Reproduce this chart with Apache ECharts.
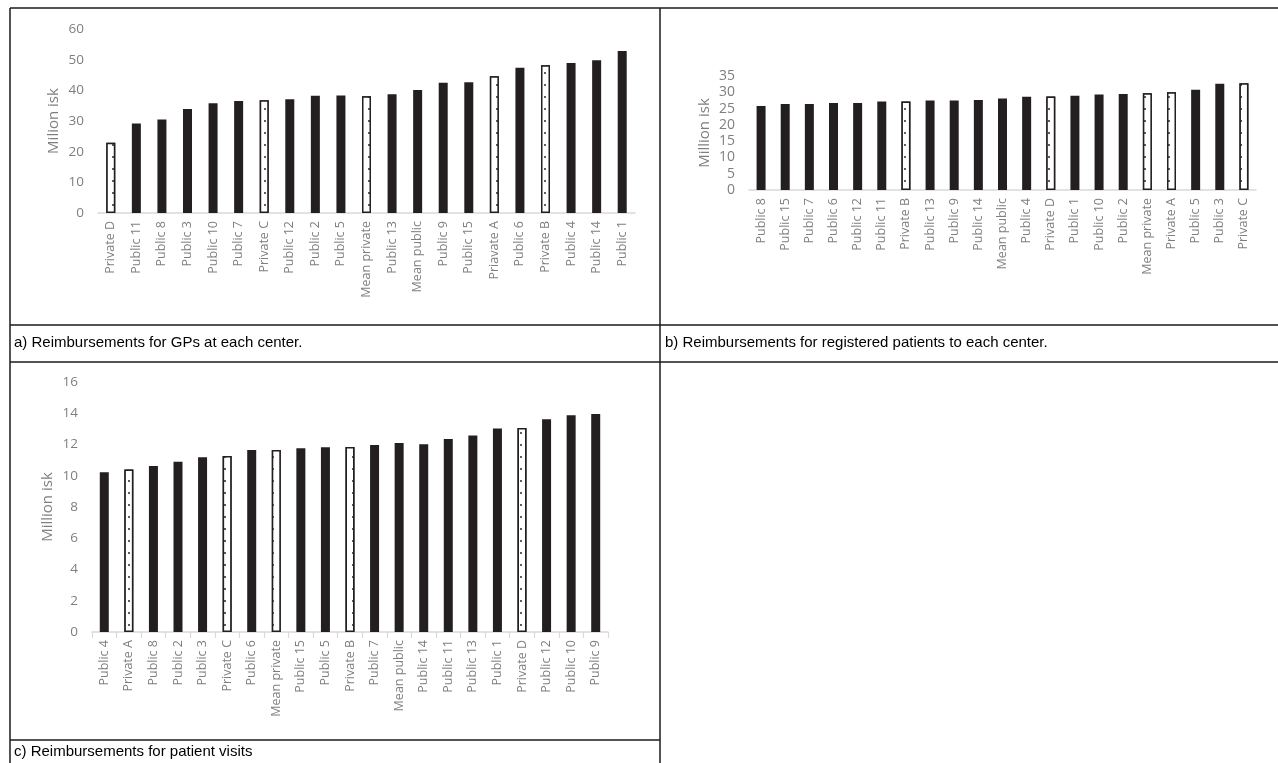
<!DOCTYPE html>
<html>
<head>
<meta charset="utf-8">
<script src="https://cdn.jsdelivr.net/npm/echarts@6/dist/echarts.min.js"></script>
<style>
html,body{margin:0;padding:0;background:#fff;}
#chart{width:1278px;height:763px;}
</style>
</head>
<body>
<div id="chart"></div>
<script>
// Panel a: Reimbursements for GPs at each center
const catsA = ["Private D","Public 11","Public 8","Public 3","Public 10","Public 7","Private C","Public 12","Public 2","Public 5","Mean private","Public 13","Mean public","Public 9","Public 15","Priavate A","Public 6","Private B","Public 4","Public 14","Public 1"];
const valsA = [22.9,29.2,30.5,33.9,35.8,36.5,36.8,37.1,38.2,38.3,38.1,38.7,40.1,42.5,42.6,44.6,47.4,48.2,48.9,49.8,52.8];
const ticksA = {min:0, max:60, interval:10};

// Panel b: Reimbursements for registered patients to each center
const catsB = ["Public 8","Public 15","Public 7","Public 6","Public 12","Public 11","Private B","Public 13","Public 9","Public 14","Mean public","Public 4","Private D","Public 1","Public 10","Public 2","Mean private","Private A","Public 5","Public 3","Private C"];
const valsB = [25.8,26.4,26.4,26.7,26.7,27.2,27.2,27.5,27.5,27.6,28.1,28.6,28.7,28.9,29.3,29.5,29.7,30.0,30.8,32.6,32.8];
const ticksB = {min:0, max:35, interval:5};

// Panel c: Reimbursements for patient visits
const catsC = ["Public 4","Private A","Public 8","Public 2","Public 3","Private C","Public 6","Mean private","Public 15","Public 5","Private B","Public 7","Mean public","Public 14","Public 11","Public 13","Public 1","Private D","Public 12","Public 10","Public 9"];
const valsC = [10.23,10.40,10.63,10.89,11.19,11.27,11.65,11.65,11.76,11.82,11.84,11.97,12.10,12.01,12.35,12.57,13.03,13.05,13.61,13.88,13.95];
const ticksC = {min:0, max:16, interval:2};

const yTitles = ["Milion isk", "Million isk", "Million isk"];
const captions = ["a) Reimbursements for GPs at each center.", "b) Reimbursements for registered patients to each center.", "c) Reimbursements for patient visits"];

const DARK = '#231f20';
const GRAY = '#7f7f7f';
const AXIS = '#d9d9d9';
const FONT = 'Open Sans';

function isPrivate(name){ return /^(Priv|Priavate|Mean private)/.test(name); }

const privStyle = {
  color: '#ffffff', borderColor: DARK, borderWidth: 1.5,
  decal: { symbol: 'circle', symbolSize: 0.9, color: '#111', backgroundColor: '#ffffff', dashArrayX: [1.6, 6], dashArrayY: [1.6, 10] }
};
const pubStyle = { color: DARK };

function items(cats, vals){
  return vals.map((v,i)=>({ value: v, itemStyle: isPrivate(cats[i]) ? privStyle : pubStyle }));
}

const grids = [
  {left: 98, right: 643, top: 29, bottom: 550},
  {left: 749, right: 22, top: 76, bottom: 573},
  {left: 92, right: 670, top: 382, bottom: 131}
];
const panels = [[catsA, valsA, ticksA],[catsB, valsB, ticksB],[catsC, valsC, ticksC]];

const xAxes = panels.map((p,i)=>({
  type: 'category', gridIndex: i, data: p[0],
  axisLine: {lineStyle: {color: AXIS, width: 1.5}},
  axisTick: {show: i===2, length: 6, lineStyle: {color: AXIS, width: 1.2}},
  axisLabel: {rotate: 90, color: GRAY, fontFamily: FONT, fontSize: 12.5, margin: 8, interval: 0}
}));
const yAxes = panels.map((p,i)=>({
  type: 'value', gridIndex: i, min: p[2].min, max: p[2].max, interval: p[2].interval,
  splitLine: {show: false}, axisLine: {show: false}, axisTick: {show: false},
  axisLabel: {color: GRAY, fontFamily: FONT, fontSize: i===1 ? 14 : 13.5, margin: 14},
  name: yTitles[i], nameLocation: 'middle', nameGap: 37, nameRotate: 90,
  nameTextStyle: {color: GRAY, fontFamily: FONT, fontSize: 15}
}));
const series = panels.map((p,i)=>({
  type: 'bar', xAxisIndex: i, yAxisIndex: i, barWidth: 9,
  data: items(p[0], p[1]), silent: true
}));

function line(x1,y1,x2,y2){
  return {type:'line', shape:{x1,y1,x2,y2}, style:{stroke:'#1a1a1a', lineWidth:1.5}, silent:true};
}
const capFont = '15px "Liberation Sans"';
const graphics = [
  line(10,8,1278,8),
  line(10,8,10,763),
  line(660,8,660,763),
  line(10,325,1278,325),
  line(10,362,1278,362),
  line(10,740,660,740),
  {type:'text', x:14, y:343, style:{text:captions[0], fill:'#000', font:capFont, verticalAlign:'middle'}},
  {type:'text', x:665, y:343, style:{text:captions[1], fill:'#000', font:capFont, verticalAlign:'middle'}},
  {type:'text', x:14, y:752, style:{text:captions[2], fill:'#000', font:capFont, verticalAlign:'middle'}}
];

const chart = echarts.init(document.getElementById('chart'), null, {renderer:'canvas'});
chart.setOption({
  animation: false,
  backgroundColor: '#ffffff',
  grid: grids,
  xAxis: xAxes,
  yAxis: yAxes,
  series: series,
  graphic: graphics
});
</script>
</body>
</html>
